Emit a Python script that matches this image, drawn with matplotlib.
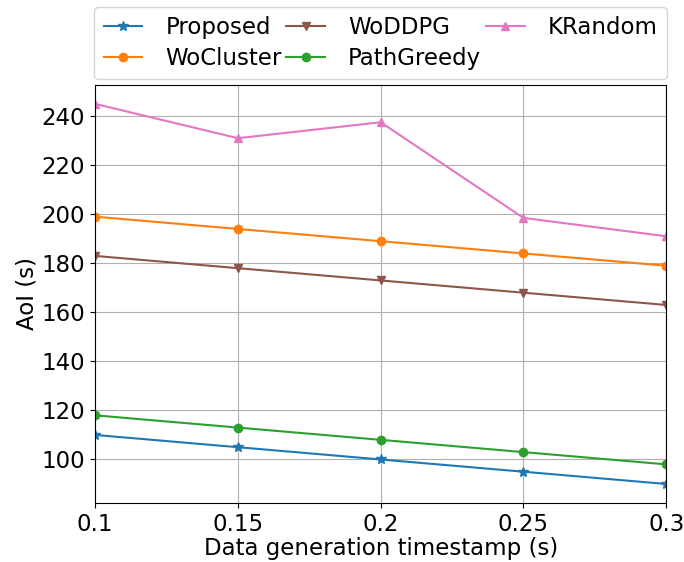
import matplotlib
matplotlib.use("Agg")
import matplotlib.pyplot as plt

timestamps = [0.1, 0.15, 0.2, 0.25, 0.3]
tick_labels = ["0.1", "0.15", "0.2", "0.25", "0.3"]

proposed = [110, 105, 100, 95, 90]
wo_cluster = [199, 194, 189, 184, 179]
wo_ddpg = [183, 178, 173, 168, 163]
path_greedy = [118, 113, 108, 103, 98]
k_random = [245, 231, 237.5, 198.5, 191]

plt.rcParams["font.family"] = ["DejaVu Sans"]
plt.rcParams["font.size"] = 16.5

fig = plt.figure(figsize=(6.84, 5.62), dpi=100)
ax = fig.add_axes([0.139, 0.105, 0.835, 0.744])

ax.plot(timestamps, proposed, marker="*", color="tab:blue", label="Proposed", markersize=7)
ax.plot(timestamps, wo_cluster, marker="o", color="tab:orange", label="WoCluster", markersize=6)
ax.plot(timestamps, wo_ddpg, marker="v", color="tab:brown", label="WoDDPG", markersize=6)
ax.plot(timestamps, path_greedy, marker="o", color="tab:green", label="PathGreedy", markersize=6)
ax.plot(timestamps, k_random, marker="^", color="tab:pink", label="KRandom", markersize=6)

ax.set_xlim(0.1, 0.3)
ax.set_xticks(timestamps)
ax.set_xticklabels(tick_labels)
ax.set_yticks([100, 120, 140, 160, 180, 200, 220, 240])
ax.tick_params(labelsize=16.5)
ax.grid(True)
ax.set_xlabel("Data generation timestamp (s)", labelpad=1)
ax.set_ylabel("AoI (s)", labelpad=2)

ax.legend(loc="lower center", bbox_to_anchor=(0.5, 1.0), ncol=3,
          columnspacing=0.2, handletextpad=1.0, handlelength=1.7,
          borderaxespad=0.25, labelspacing=0.35, fontsize=16.5)

fig.savefig("out.png", dpi=100)
